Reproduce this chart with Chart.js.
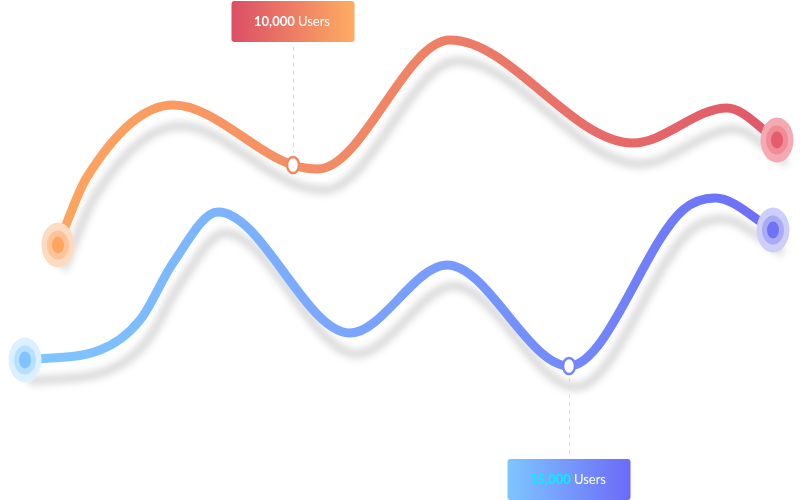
<!DOCTYPE html>
<html>
<head>
<meta charset="utf-8">
<script src="https://cdn.jsdelivr.net/npm/chart.js@4/dist/chart.umd.min.js"></script>
<style>
  html, body { margin: 0; padding: 0; background: #ffffff; }
  #wrap { width: 800px; height: 500px; position: relative; }
</style>
</head>
<body>
<div id="wrap"><canvas id="c" width="800" height="500"></canvas></div>
<script>
// ---- data ----
const orangeX = [58, 87, 173, 293, 318, 450, 633, 727, 777];
const orangeY = [255, 323, 395, 335, 331, 460, 357, 392, 360];
const blueX = [25, 100, 140, 173, 218, 350, 447, 569, 683, 715, 773];
const blueY = [140, 150, 180, 237, 288, 167, 235, 134, 290, 302, 270];
const orangeHighlight = 3;   // index of highlighted point
const blueHighlight = 7;
const orangeLabelValue = '10,000';
const blueLabelValue = '15,000';
const labelUnit = 'Users';

// ---- helpers ----
function toPoints(xs, ys) { return xs.map((x, i) => ({ x: x, y: ys[i] })); }

function markerCanvas(outer, middle, inner) {
  const c = document.createElement('canvas');
  c.width = 34; c.height = 46;
  const g = c.getContext('2d');
  const cx = 17, cy = 23;
  g.fillStyle = outer;  g.beginPath(); g.ellipse(cx, cy, 16.5, 22.5, 0, 0, Math.PI * 2); g.fill();
  g.fillStyle = middle; g.beginPath(); g.ellipse(cx, cy, 11, 14.5, 0, 0, Math.PI * 2); g.fill();
  g.fillStyle = inner;  g.beginPath(); g.ellipse(cx, cy, 6, 8.5, 0, 0, Math.PI * 2); g.fill();
  return c;
}
function highlightCanvas(stroke) {
  const c = document.createElement('canvas');
  c.width = 18; c.height = 22;
  const g = c.getContext('2d');
  g.fillStyle = '#ffffff'; g.strokeStyle = stroke; g.lineWidth = 2.5;
  g.beginPath(); g.ellipse(9, 11, 6, 8, 0, 0, Math.PI * 2); g.fill(); g.stroke();
  return c;
}

const orangeStart = markerCanvas('#FDDBC0', '#FDC49C', '#FFA55E');
const orangeEnd = markerCanvas('#F5A9B1', '#EF8C97', '#E35D6D');
const orangeMid = highlightCanvas('#F08A5E');
const blueStart = markerCanvas('#DDF0FF', '#B7DFFF', '#80C4FF');
const blueEnd = markerCanvas('#CDCEF9', '#A9ABF7', '#6F72F4');
const blueMid = highlightCanvas('#7286FF');

function lineGradient(ctx, chart, stops) {
  const area = chart.chartArea;
  if (!area) return stops[0][1];
  const gr = ctx.createLinearGradient(area.left + 40, 0, area.right - 20, 0);
  stops.forEach(s => gr.addColorStop(s[0], s[1]));
  return gr;
}
const orangeStops = [[0, '#FFA75E'], [0.5, '#EF8366'], [1, '#E0566A']];
const blueStops = [[0, '#7EC6FF'], [0.5, '#799FFF'], [1, '#6B6CF6']];

function markerStyle(n, hi, start, mid, end) {
  return function (ctx) {
    const i = ctx.dataIndex;
    if (i === 0) return start;
    if (i === n - 1) return end;
    if (i === hi) return mid;
    return 'circle';
  };
}
function markerRadius(n, hi) {
  return function (ctx) {
    const i = ctx.dataIndex;
    return (i === 0 || i === n - 1 || i === hi) ? 10 : 0;
  };
}

// ---- plugins ----
const shadowPlugin = {
  id: 'lineShadow',
  beforeDatasetDraw(chart, args) {
    const ds = chart.data.datasets[args.index];
    if (!ds.shadow) return;
    const ctx = chart.ctx;
    ctx.save();
    ctx.shadowColor = 'rgba(0,0,0,0.14)';
    ctx.shadowBlur = 7;
    ctx.shadowOffsetX = 7;
    ctx.shadowOffsetY = 21;
  },
  afterDatasetDraw(chart, args) {
    const ds = chart.data.datasets[args.index];
    if (!ds.shadow) return;
    chart.ctx.restore();
  }
};

function roundRect(ctx, x, y, w, h, r) {
  ctx.beginPath();
  ctx.moveTo(x + r, y);
  ctx.lineTo(x + w - r, y); ctx.quadraticCurveTo(x + w, y, x + w, y + r);
  ctx.lineTo(x + w, y + h - r); ctx.quadraticCurveTo(x + w, y + h, x + w - r, y + h);
  ctx.lineTo(x + r, y + h); ctx.quadraticCurveTo(x, y + h, x, y + h - r);
  ctx.lineTo(x, y + r); ctx.quadraticCurveTo(x, y, x + r, y);
  ctx.closePath();
}

function drawLabel(ctx, cx, top, value, valueColor, c1, c2) {
  const w = 123, h = 41;
  const x = cx - w / 2;
  const g = ctx.createLinearGradient(x, 0, x + w, 0);
  g.addColorStop(0, c1); g.addColorStop(1, c2);
  ctx.fillStyle = g;
  roundRect(ctx, x, top, w, h, 3);
  ctx.fill();
  ctx.textBaseline = 'middle';
  ctx.font = 'bold 13px Lato';
  const w1 = ctx.measureText(value + ' ').width;
  ctx.font = '13px Lato';
  const w2 = ctx.measureText(labelUnit).width;
  const start = cx - (w1 + w2) / 2 - 1;
  ctx.textAlign = 'left';
  ctx.font = 'bold 13px Lato';
  ctx.fillStyle = valueColor;
  ctx.fillText(value, start, top + h / 2 + 0.5);
  ctx.font = '13px Lato';
  ctx.fillStyle = '#ffffff';
  ctx.fillText(labelUnit, start + w1, top + h / 2 + 0.5);
}

const labelPlugin = {
  id: 'labels',
  afterDraw(chart) {
    const ctx = chart.ctx;
    const mo = chart.getDatasetMeta(2).data[orangeHighlight];
    const mb = chart.getDatasetMeta(3).data[blueHighlight];
    ctx.save();
    ctx.strokeStyle = '#DCDDE6';
    ctx.lineWidth = 1;
    ctx.setLineDash([4, 4]);
    ctx.beginPath();
    ctx.moveTo(Math.round(mo.x) + 0.5, 47);
    ctx.lineTo(Math.round(mo.x) + 0.5, mo.y - 12);
    ctx.moveTo(Math.round(mb.x) + 0.5, mb.y + 12);
    ctx.lineTo(Math.round(mb.x) + 0.5, 455);
    ctx.stroke();
    ctx.setLineDash([]);
    drawLabel(ctx, mo.x, 1, orangeLabelValue, '#ffffff', '#DC4E66', '#FFAC62');
    drawLabel(ctx, mb.x, 459, blueLabelValue, '#00F2FF', '#7EC6FF', '#6C6AF7');
    ctx.restore();
  }
};

// ---- chart ----
const orangeData = toPoints(orangeX, orangeY);
const blueData = toPoints(blueX, blueY);

new Chart(document.getElementById('c'), {
  type: 'line',
  data: {
    datasets: [
      {
        data: orangeData, shadow: true, order: 3,
        borderWidth: 9, borderCapStyle: 'round', fill: false,
        cubicInterpolationMode: 'monotone', pointRadius: 0,
        borderColor: (c) => lineGradient(c.chart.ctx, c.chart, orangeStops)
      },
      {
        data: blueData, shadow: true, order: 4,
        borderWidth: 9, borderCapStyle: 'round', fill: false,
        cubicInterpolationMode: 'monotone', pointRadius: 0,
        borderColor: (c) => lineGradient(c.chart.ctx, c.chart, blueStops)
      },
      {
        data: orangeData, showLine: false, order: 1,
        pointStyle: markerStyle(orangeX.length, orangeHighlight, orangeStart, orangeMid, orangeEnd),
        pointRadius: markerRadius(orangeX.length, orangeHighlight),
        pointBorderWidth: 0, pointBackgroundColor: 'rgba(0,0,0,0)', pointBorderColor: 'rgba(0,0,0,0)'
      },
      {
        data: blueData, showLine: false, order: 2,
        pointStyle: markerStyle(blueX.length, blueHighlight, blueStart, blueMid, blueEnd),
        pointRadius: markerRadius(blueX.length, blueHighlight),
        pointBorderWidth: 0, pointBackgroundColor: 'rgba(0,0,0,0)', pointBorderColor: 'rgba(0,0,0,0)'
      }
    ]
  },
  options: {
    responsive: false,
    animation: false,
    layout: { padding: 0, autoPadding: false },
    clip: false,
    plugins: { legend: { display: false }, tooltip: { enabled: false } },
    events: [],
    scales: {
      x: { type: 'linear', min: 0, max: 800, display: false },
      y: { type: 'linear', min: 0, max: 500, display: false }
    }
  },
  plugins: [shadowPlugin, labelPlugin]
});
</script>
</body>
</html>
